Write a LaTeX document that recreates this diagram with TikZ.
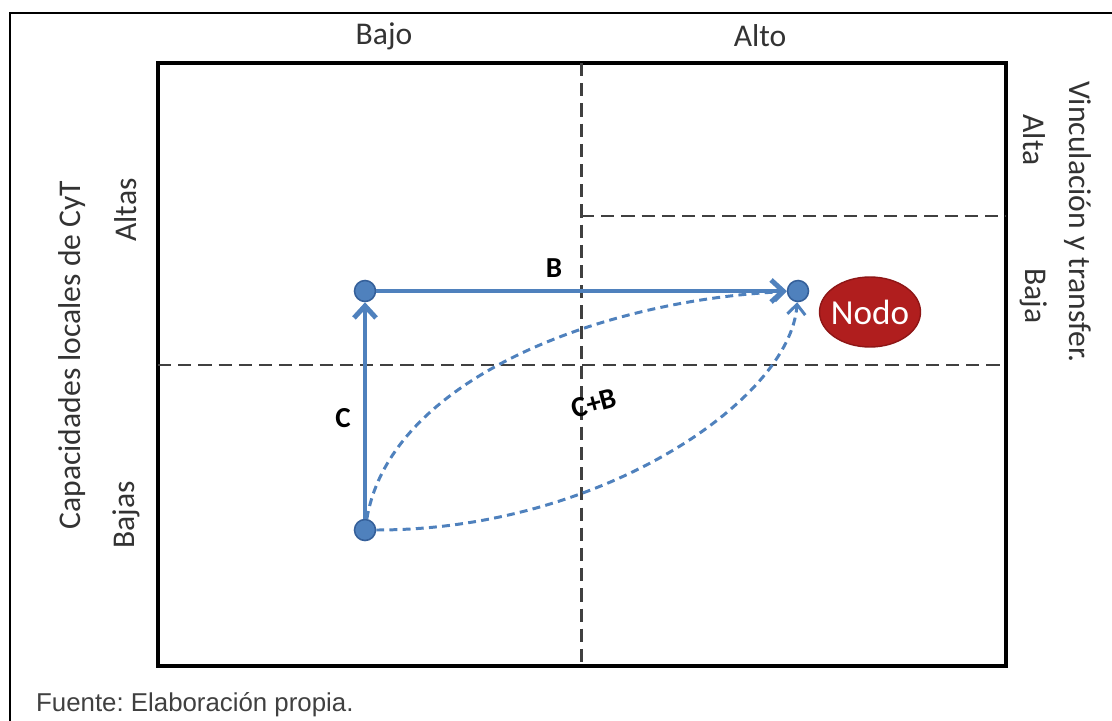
\documentclass[tikz,border=0pt]{standalone}
\usepackage{fontspec}
\setmainfont{Carlito}
\newfontfamily\arialfont{Liberation Sans}
\usetikzlibrary{arrows.meta,shapes.geometric}
\definecolor{dotblue}{HTML}{4F81BD}
\definecolor{dotedge}{HTML}{35609A}
\definecolor{nodored}{HTML}{B01E1E}
\definecolor{nodoedge}{HTML}{8E1616}
\begin{document}
\begin{tikzpicture}[x=0.02cm,y=-0.02cm,
  axlabel/.style={font=\fontsize{18}{21}\selectfont,text=black!80},
  steplabel/.style={font=\bfseries\fontsize{16.5}{19}\selectfont},
  dot/.style={circle,fill=dotblue,draw=dotedge,line width=0.9pt,inner sep=0pt,minimum size=0.42cm},
  gridline/.style={black!75,line width=1.7pt,dash pattern=on 7.5pt off 4pt},
  move/.style={dotblue,line width=2.8pt,-{Straight Barb[length=2.4mm,width=4.4mm]}},
  jump/.style={dotblue,line width=1.7pt,dash pattern=on 4.5pt off 3pt,-{Straight Barb[length=2mm,width=3.6mm]}}]
\useasboundingbox (0,0) rectangle (1112,720);
\draw[line width=1.4pt] (10,730) -- (10,13) -- (1120,13);
\draw[line width=2pt] (158,63) rectangle (1006,666);
\draw[gridline] (581,63) -- (581,666);
\draw[gridline] (158,365) -- (1006,365);
\draw[gridline] (581,216) -- (1006,216);
\node[axlabel] (bajo) at (384,36) {Bajo};
\node[axlabel] (alto) at (760,36) {Alto};
\node[axlabel,rotate=90] (altas) at (126,210) {Altas};
\node[axlabel,rotate=90] (bajas) at (126,515) {Bajas};
\node[axlabel,rotate=90] (capac) at (72,355) {Capacidades locales de CyT};
\node[axlabel,rotate=-90] (vincul) at (1078,222) {Vinculación y transfer.};
\node[axlabel,rotate=-90] (alta) at (1034,140) {Alta};
\node[axlabel,rotate=-90] (baja) at (1034,296) {Baja};
\node[dot] (start) at (365,530) {};
\node[dot] (mid) at (365,291) {};
\node[dot] (goal) at (798,291) {};
\node[ellipse,fill=nodored,draw=nodoedge,line width=0.8pt,inner sep=0pt,minimum width=2.02cm,minimum height=1.4cm,
  text=white,font=\fontsize{20}{24}\selectfont] (nodo) at (870,312) {\makebox[0pt]{Nodo}};
\draw[move] (start) -- (mid);
\draw[move] (mid) -- (goal);
\draw[jump] (start) .. controls (390,380) and (600,300) .. (goal);
\draw[jump] (start) .. controls (600,530) and (790,400) .. (goal);
\node[steplabel] (lblb) at (554,268) {B};
\node[steplabel] (lblc) at (343,418) {C};
\node[steplabel,rotate=15] (lblcb) at (594,403) {C+B};
\node[anchor=west,text=black!75,font=\arialfont\frenchspacing\fontsize{14.7}{17}\selectfont] (fuente) at (30,705) {Fuente: Elaboración propia.};
\end{tikzpicture}
\end{document}
